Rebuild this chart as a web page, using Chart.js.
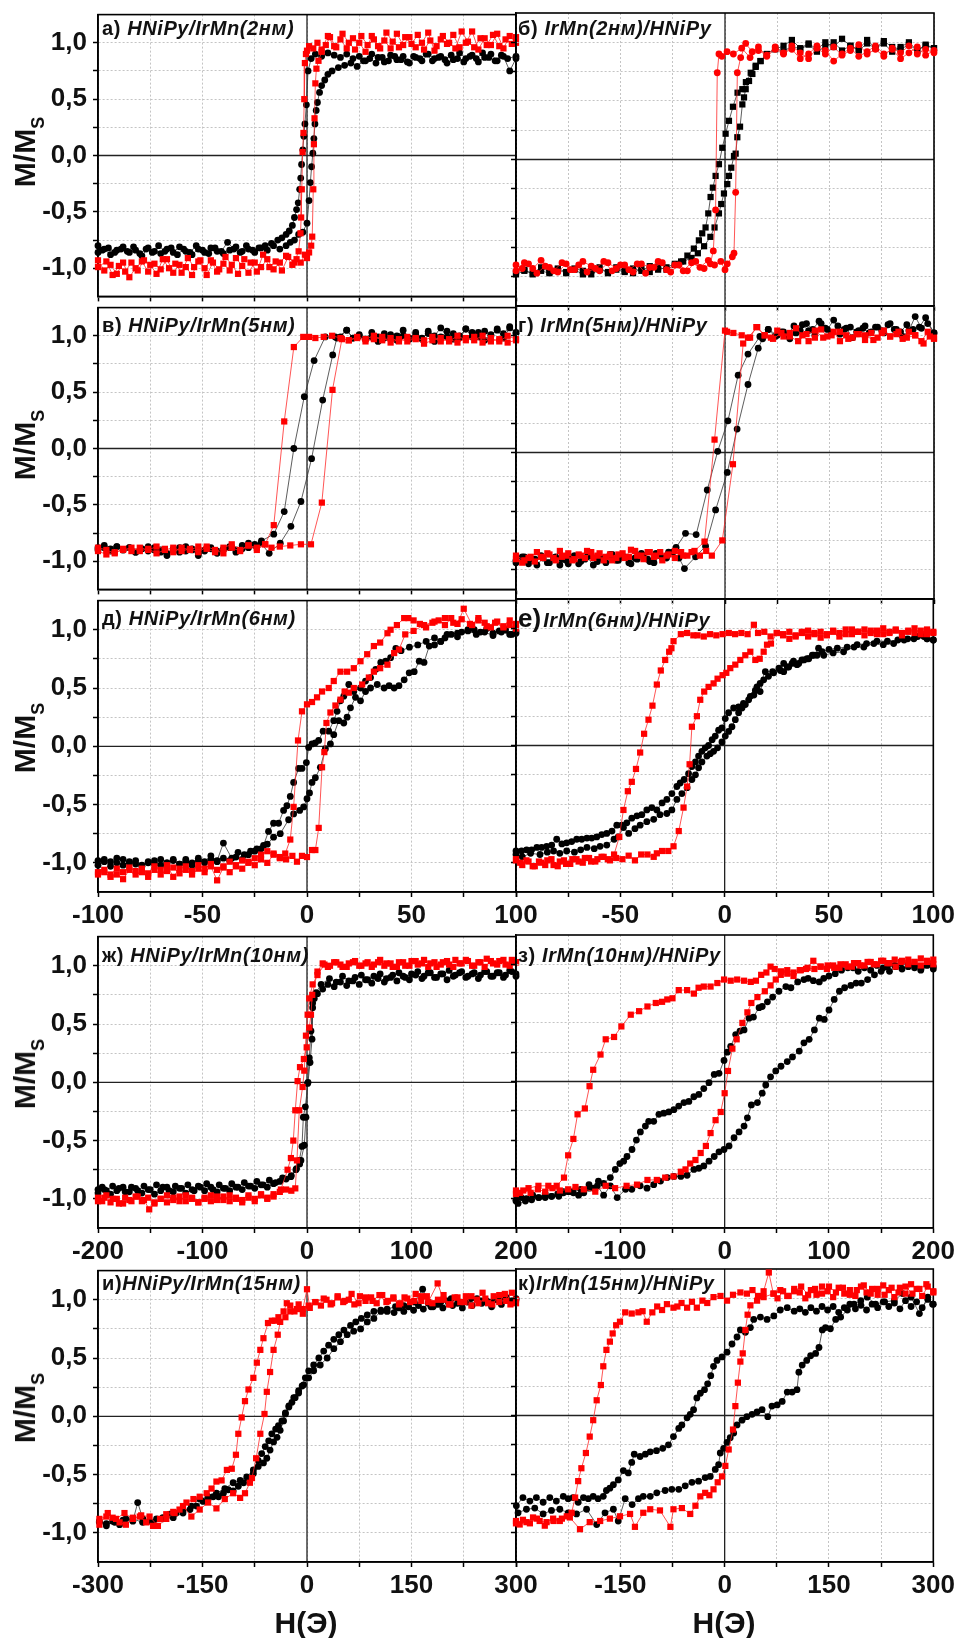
<!DOCTYPE html>
<html>
<head>
<meta charset="utf-8">
<script src="https://cdn.jsdelivr.net/npm/chart.js@4.4.1/dist/chart.umd.min.js"></script>
<style>
  html, body { margin: 0; padding: 0; background: #fff; }
  body { position: relative; width: 958px; height: 1638px; overflow: hidden; font-family: "Liberation Sans", Arial, sans-serif; }
  canvas { position: absolute; }
  .lbl { position: absolute; font-weight: bold; font-size: 20px; line-height: 20px; letter-spacing: 0.6px; white-space: nowrap; color: #111; }
  .lbl i { font-style: italic; }
  .lbl .big { font-size: 26px; letter-spacing: 0; margin-right: 2px; }
  .ytitle { position: absolute; font-weight: bold; font-size: 30px; line-height: 30px; white-space: nowrap; color: #111;
            transform: translate(-50%, -50%) rotate(-90deg); }
  .ytitle span { font-size: 18px; line-height: 0; position: relative; top: 9px; }
  .xtitle { position: absolute; font-weight: bold; font-size: 30px; line-height: 30px; white-space: nowrap; color: #111; transform: translateX(-50%); }
</style>
</head>
<body>
<script>
// ---- data: [H (Oe), M/Ms], descending branch then ascending branch ----

// а) HNiPy/IrMn(2нм)
const aKDown = [[100,0.86],[97,0.75],[94,0.88],[91,0.84],[88,0.9],[85,0.87],[82,0.83],[79,0.89],[76,0.86],[73,0.91],[70,0.85],[67,0.82],[64,0.88],[61,0.86],[58,0.9],[55,0.84],[52,0.87],[49,0.82],[46,0.88],[43,0.85],[40,0.89],[37,0.83],[34,0.87],[31,0.9],[28,0.84],[25,0.88],[22,0.86],[19,0.9],[16,0.87],[13,0.89],[10,0.91],[7,0.88],[4,0.9],[2,0.86],[0.5,0.75],[-0.3,0.45],[-1,0.28],[-1.5,0.17],[-2,0.05],[-2.6,-0.08],[-3,-0.2],[-3.5,-0.3],[-4.2,-0.42],[-5,-0.48],[-6,-0.55],[-7,-0.62],[-8.5,-0.67],[-10,-0.7],[-12,-0.73],[-14,-0.75],[-17,-0.78],[-20,-0.8],[-23,-0.82],[-26,-0.84],[-29,-0.8],[-32,-0.86],[-35,-0.83],[-38,-0.77],[-41,-0.85],[-44,-0.82],[-47,-0.87],[-50,-0.84],[-53,-0.8],[-56,-0.86],[-59,-0.83],[-62,-0.88],[-65,-0.82],[-68,-0.85],[-71,-0.8],[-74,-0.86],[-77,-0.83],[-80,-0.87],[-83,-0.81],[-86,-0.85],[-89,-0.83],[-92,-0.86],[-95,-0.82],[-98,-0.84],[-100,-0.8]];
const aKUp = [[-100,-0.86],[-97,-0.83],[-94,-0.88],[-91,-0.84],[-88,-0.81],[-85,-0.86],[-82,-0.84],[-79,-0.89],[-76,-0.82],[-73,-0.85],[-70,-0.87],[-67,-0.83],[-64,-0.86],[-61,-0.81],[-58,-0.85],[-55,-0.88],[-52,-0.83],[-49,-0.86],[-46,-0.82],[-43,-0.85],[-40,-0.87],[-37,-0.84],[-34,-0.81],[-31,-0.85],[-28,-0.83],[-25,-0.86],[-22,-0.82],[-19,-0.84],[-16,-0.8],[-13,-0.83],[-10,-0.8],[-8,-0.77],[-6,-0.75],[-4,-0.7],[-2,-0.68],[0,-0.6],[1,-0.4],[1.6,-0.24],[2.2,-0.1],[2.8,0.02],[3.3,0.15],[3.8,0.28],[4.4,0.4],[5,0.47],[6,0.56],[7,0.62],[8.5,0.67],[10,0.72],[12,0.75],[15,0.78],[18,0.8],[21,0.82],[24,0.79],[27,0.84],[30,0.86],[33,0.82],[36,0.87],[39,0.84],[42,0.88],[45,0.85],[48,0.83],[51,0.88],[54,0.86],[57,0.9],[60,0.84],[63,0.87],[66,0.85],[69,0.89],[72,0.86],[75,0.83],[78,0.88],[81,0.86],[84,0.91],[87,0.87],[90,0.84],[93,0.89],[96,0.86],[100,0.88]];
const aRDown = [[100,1.0],[97,1.06],[94,0.95],[91,1.08],[88,0.98],[85,1.04],[82,0.94],[79,1.1],[76,1.0],[73,0.96],[70,1.07],[67,0.99],[64,1.03],[61,0.93],[58,1.09],[55,1.0],[52,0.96],[49,1.05],[46,0.98],[43,1.08],[40,0.95],[37,1.02],[34,0.97],[31,1.06],[28,0.92],[25,1.0],[22,1.04],[19,0.95],[16,1.03],[13,0.97],[10,1.06],[7,0.94],[5,1.0],[3,0.95],[1,0.97],[0,0.93],[-0.5,0.9],[-1,0.82],[-1.3,0.5],[-1.7,0.2],[-2.1,0.03],[-2.5,-0.3],[-2.8,-0.55],[-3.1,-0.69],[-4,-0.85],[-6,-0.95],[-9,-0.9],[-12,-1.02],[-15,-0.94],[-18,-0.99],[-21,-0.88],[-24,-1.03],[-27,-0.95],[-30,-0.92],[-33,-1.05],[-36,-0.97],[-39,-0.9],[-42,-1.01],[-45,-0.95],[-48,-1.06],[-51,-0.93],[-54,-0.99],[-57,-0.91],[-60,-1.04],[-63,-0.96],[-66,-1.0],[-69,-0.92],[-72,-1.05],[-75,-0.97],[-78,-0.93],[-81,-1.02],[-84,-0.95],[-87,-1.03],[-90,-0.98],[-93,-1.06],[-96,-0.94],[-100,-0.99]];
const aRUp = [[-100,-0.93],[-97,-1.02],[-94,-0.97],[-91,-1.05],[-88,-0.95],[-85,-1.08],[-82,-1.0],[-79,-0.94],[-76,-1.03],[-73,-0.96],[-70,-1.01],[-67,-0.92],[-64,-1.04],[-61,-0.97],[-58,-0.99],[-55,-1.06],[-52,-0.94],[-49,-1.0],[-46,-0.93],[-43,-1.03],[-40,-0.96],[-37,-1.02],[-34,-0.91],[-31,-0.98],[-28,-1.04],[-25,-0.95],[-22,-0.99],[-19,-0.92],[-16,-1.01],[-13,-0.95],[-10,-0.89],[-7,-0.97],[-5,-0.92],[-3,-0.95],[-1,-0.88],[0,-0.91],[1,-0.86],[2,-0.8],[2.5,-0.72],[3,-0.3],[3.3,0.1],[3.6,0.33],[4,0.64],[4.5,0.77],[5.5,0.84],[7,0.92],[9,0.98],[11,1.05],[14,0.96],[17,1.08],[20,1.0],[23,0.94],[26,1.06],[29,0.98],[32,1.03],[35,0.95],[38,1.09],[41,1.01],[44,0.96],[47,1.05],[50,0.99],[53,1.07],[56,0.94],[59,1.02],[62,0.97],[65,1.06],[68,1.0],[71,0.95],[74,1.1],[77,1.01],[80,0.96],[83,1.04],[86,0.98],[89,1.07],[92,0.97],[95,1.03],[98,0.99],[100,1.05]];

// б) IrMn(2нм)/HNiPy
const bKDown = [[100,0.95],[96,0.98],[92,0.93],[88,1.0],[84,0.96],[80,0.92],[76,0.99],[72,0.95],[68,1.02],[64,0.94],[60,0.97],[56,0.93],[52,1.0],[48,0.96],[44,0.92],[40,0.98],[36,0.94],[32,0.97],[28,0.92],[24,0.95],[20,0.9],[17,0.84],[14.7,0.8],[12.3,0.74],[10,0.66],[8.3,0.6],[6,0.57],[3.8,0.45],[1.9,0.33],[0.3,0.22],[-1.3,0.1],[-2.9,-0.04],[-4.5,-0.14],[-5.8,-0.24],[-6.9,-0.32],[-8,-0.46],[-9.3,-0.58],[-10.9,-0.63],[-12.5,-0.69],[-14.9,-0.76],[-18,-0.82],[-21,-0.87],[-24,-0.9],[-28,-0.94],[-32,-0.92],[-36,-0.96],[-40,-0.93],[-44,-0.97],[-48,-0.95],[-52,-0.92],[-56,-0.96],[-60,-0.94],[-64,-0.98],[-68,-0.95],[-72,-0.93],[-76,-0.97],[-80,-0.94],[-84,-0.96],[-88,-0.92],[-92,-0.97],[-96,-0.95],[-100,-0.98]];
const bKUp = [[-100,-0.96],[-96,-0.94],[-92,-0.98],[-88,-0.95],[-84,-0.97],[-80,-0.93],[-76,-0.96],[-72,-0.94],[-68,-0.98],[-64,-0.95],[-60,-0.92],[-56,-0.97],[-52,-0.94],[-48,-0.96],[-44,-0.93],[-40,-0.95],[-36,-0.91],[-32,-0.94],[-28,-0.92],[-24,-0.89],[-20,-0.87],[-16,-0.84],[-13,-0.8],[-10,-0.74],[-7,-0.66],[-5,-0.58],[-2.9,-0.46],[-1.8,-0.38],[-0.5,-0.29],[1.1,-0.21],[1.9,-0.14],[3,-0.07],[4.3,0.03],[5.1,0.05],[5.9,0.19],[7.2,0.28],[8.3,0.47],[9.1,0.53],[9.9,0.6],[11.5,0.67],[13.1,0.73],[14.7,0.79],[17,0.84],[20,0.9],[24,0.94],[28,0.97],[32,1.02],[36,0.95],[40,0.99],[44,0.94],[48,1.0],[52,0.96],[56,1.03],[60,0.97],[64,0.93],[68,0.99],[72,0.95],[76,1.01],[80,0.96],[84,0.94],[88,0.98],[92,0.93],[96,0.97],[100,0.95]];
const bRDown = [[100,0.93],[96,0.89],[92,0.96],[88,0.91],[84,0.86],[80,0.94],[76,0.9],[72,0.97],[68,0.92],[64,0.88],[60,0.95],[56,0.9],[52,0.84],[48,0.93],[44,0.97],[40,0.9],[36,0.86],[32,0.94],[28,0.91],[24,0.96],[20,0.89],[16,0.93],[12,0.87],[8,0.95],[4,0.9],[1,0.92],[-1.5,0.88],[-2.9,0.9],[-3.7,0.74],[-4.5,-0.43],[-5.6,-0.78],[-7,-0.89],[-10,-0.93],[-14,-0.87],[-18,-0.95],[-22,-0.9],[-26,-0.96],[-30,-0.88],[-34,-0.92],[-38,-0.97],[-42,-0.89],[-46,-0.94],[-50,-0.9],[-54,-0.95],[-58,-0.87],[-62,-0.93],[-66,-0.96],[-70,-0.9],[-74,-0.94],[-78,-0.88],[-82,-0.95],[-86,-0.91],[-90,-0.97],[-94,-0.89],[-97,-0.93],[-100,-0.9]];
const bRUp = [[-100,-0.95],[-96,-0.88],[-92,-0.93],[-88,-0.86],[-84,-0.92],[-80,-0.96],[-76,-0.89],[-72,-0.94],[-68,-0.87],[-64,-0.91],[-60,-0.95],[-56,-0.88],[-52,-0.93],[-48,-0.9],[-44,-0.96],[-40,-0.89],[-36,-0.92],[-32,-0.87],[-28,-0.94],[-24,-0.9],[-20,-0.95],[-16,-0.88],[-12,-0.92],[-8,-0.86],[-5,-0.9],[-2,-0.87],[0,-0.94],[1.1,-0.89],[3.5,-0.83],[4.3,-0.8],[5.1,-0.28],[5.9,0.74],[7.5,0.87],[9.9,0.99],[13,0.92],[16,0.96],[20,0.88],[24,0.94],[28,0.9],[32,0.97],[36,0.91],[40,0.86],[44,0.95],[48,0.9],[52,0.96],[56,0.89],[60,0.93],[64,0.98],[68,0.9],[72,0.94],[76,0.88],[80,0.95],[84,0.91],[88,0.97],[92,0.9],[96,0.94],[100,0.91]];

// в) HNiPy/IrMn(5нм)
const vKDown = [[100,1.02],[97,1.07],[94,0.98],[91,1.05],[88,1.01],[85,0.96],[82,1.03],[79,0.99],[76,1.06],[73,1.0],[70,0.97],[67,1.04],[64,0.99],[61,0.95],[58,1.02],[55,0.98],[52,1.03],[49,0.97],[46,1.0],[43,0.96],[40,1.01],[37,0.98],[34,0.95],[31,0.99],[28,0.97],[25,1.0],[22,0.98],[19,1.05],[16,0.99],[13.5,0.99],[8.7,0.99],[3.4,0.78],[-1.3,0.46],[-6.3,0.0],[-10.9,-0.56],[-15.9,-0.76],[-21.8,-0.82],[-25,-0.86],[-28,-0.84],[-31,-0.89],[-34,-0.92],[-37,-0.88],[-40,-0.9],[-43,-0.93],[-46,-0.89],[-49,-0.91],[-52,-0.95],[-55,-0.9],[-58,-0.87],[-61,-0.92],[-64,-0.89],[-67,-0.93],[-70,-0.9],[-73,-0.88],[-76,-0.91],[-79,-0.89],[-82,-0.92],[-85,-0.88],[-88,-0.9],[-91,-0.87],[-94,-0.89],[-97,-0.86],[-100,-0.88]];
const vKUp = [[-100,-0.9],[-97,-0.88],[-94,-0.91],[-91,-0.87],[-88,-0.9],[-85,-0.88],[-82,-0.92],[-79,-0.89],[-76,-0.87],[-73,-0.9],[-70,-0.92],[-67,-0.95],[-64,-0.9],[-61,-0.88],[-58,-0.91],[-55,-0.89],[-52,-0.93],[-49,-0.9],[-46,-0.88],[-43,-0.91],[-40,-0.89],[-37,-0.87],[-34,-0.9],[-31,-0.86],[-28,-0.88],[-25,-0.85],[-22,-0.84],[-18.1,-0.93],[-12.8,-0.84],[-7.7,-0.69],[-2.9,-0.47],[2.2,-0.09],[7.5,0.43],[12.3,0.83],[14.3,0.98],[19,1.05],[22,0.98],[25,1.01],[28,0.97],[31,1.03],[34,0.99],[37,1.02],[40,0.97],[43,1.0],[46,1.05],[49,0.98],[52,1.01],[55,0.97],[58,1.04],[61,1.0],[64,1.07],[67,0.99],[70,1.02],[73,0.98],[76,1.06],[79,1.03],[82,0.99],[85,1.04],[88,1.0],[91,1.06],[94,1.02],[97,1.08],[100,1.03]];
const vRDown = [[100,0.97],[96,1.0],[92,0.95],[88,0.98],[84,0.94],[80,0.99],[76,0.96],[72,1.0],[68,0.95],[64,0.98],[60,0.96],[56,0.93],[52,0.97],[48,0.99],[44,0.95],[40,0.98],[36,0.96],[32,1.0],[28,0.97],[24,0.99],[20,0.96],[16,0.98],[12,1.0],[8,0.99],[4,0.98],[1,0.99],[-1.8,0.99],[-6.3,0.9],[-10.9,0.24],[-15.9,-0.68],[-20,-0.85],[-24,-0.9],[-28,-0.86],[-32,-0.91],[-36,-0.88],[-40,-0.93],[-44,-0.9],[-48,-0.87],[-52,-0.92],[-56,-0.89],[-60,-0.91],[-64,-0.88],[-68,-0.9],[-72,-0.93],[-76,-0.89],[-80,-0.91],[-84,-0.88],[-88,-0.9],[-92,-0.92],[-96,-0.94],[-100,-0.91]];
const vRUp = [[-100,-0.88],[-96,-0.9],[-92,-0.93],[-88,-0.89],[-84,-0.91],[-80,-0.88],[-76,-0.9],[-72,-0.87],[-68,-0.89],[-64,-0.92],[-60,-0.88],[-56,-0.9],[-52,-0.87],[-48,-0.89],[-44,-0.92],[-40,-0.88],[-36,-0.85],[-32,-0.9],[-28,-0.86],[-24,-0.88],[-20,-0.85],[-17,-0.88],[-13,-0.87],[-8,-0.86],[-2.9,-0.85],[1.9,-0.85],[7.1,-0.48],[12.2,0.52],[16.7,0.97],[20,0.96],[24,0.98],[28,0.95],[32,0.97],[36,0.99],[40,0.94],[44,0.97],[48,0.95],[52,0.98],[56,0.96],[60,0.99],[64,0.95],[68,0.97],[72,0.94],[76,0.98],[80,0.96],[84,1.0],[88,0.95],[92,0.97],[96,0.94],[100,0.96]];

// г) IrMn(5нм)/HNiPy
const gKDown = [[100,1.02],[97,1.1],[94,1.06],[91,1.16],[88,1.04],[85,0.99],[82,1.05],[79,1.1],[76,1.02],[73,1.07],[70,1.03],[67,1.08],[64,1.04],[61,0.98],[58,1.06],[55,1.01],[52,1.13],[49,1.05],[46,1.1],[43,1.0],[40,1.04],[37,1.09],[34,1.02],[31,0.97],[28,1.03],[25,1.0],[20.7,1.05],[16.7,0.99],[11,0.84],[6.3,0.66],[1.4,0.27],[-3.5,0.01],[-8.5,-0.32],[-13.8,-0.7],[-18.9,-0.69],[-23.4,-0.81],[-27,-0.85],[-30,-0.9],[-33,-0.86],[-36,-0.93],[-39,-0.88],[-42,-0.91],[-45,-0.95],[-48,-0.89],[-51,-0.92],[-54,-0.87],[-57,-0.94],[-60,-0.9],[-63,-0.96],[-66,-0.89],[-69,-0.93],[-72,-0.88],[-75,-0.95],[-78,-0.91],[-81,-0.89],[-84,-0.94],[-87,-0.9],[-90,-0.96],[-93,-0.91],[-96,-0.89],[-100,-0.94]];
const gKUp = [[-100,-0.92],[-97,-0.89],[-94,-0.95],[-91,-0.91],[-88,-0.88],[-85,-0.94],[-82,-0.9],[-79,-0.96],[-76,-0.92],[-73,-0.89],[-70,-0.95],[-67,-0.91],[-64,-0.88],[-61,-0.93],[-58,-0.9],[-55,-0.87],[-52,-0.92],[-49,-0.89],[-46,-0.94],[-43,-0.9],[-40,-0.86],[-37,-0.91],[-34,-0.94],[-31,-0.88],[-28,-0.9],[-25,-0.85],[-22,-0.9],[-19.4,-0.99],[-14.1,-0.89],[-9.3,-0.8],[-4.5,-0.49],[1.1,-0.17],[5.8,0.2],[11,0.58],[15.9,0.89],[18,0.97],[20.7,1.05],[24,0.99],[27,1.03],[30,1.0],[33,1.08],[36,1.04],[39,1.1],[42,1.05],[45,1.12],[48,1.06],[51,1.02],[54,1.08],[57,1.05],[60,1.07],[63,1.03],[66,1.06],[69,1.02],[72,1.07],[75,1.04],[78,1.09],[81,1.05],[84,1.03],[87,1.09],[90,1.05],[93,1.07],[96,1.15],[100,1.02]];
const gRDown = [[100,0.98],[97,1.03],[94,0.95],[91,1.0],[88,1.03],[85,0.97],[82,1.01],[79,0.99],[76,1.04],[73,0.98],[70,1.02],[67,0.96],[64,1.01],[61,0.98],[58,1.0],[55,0.95],[52,1.03],[49,0.99],[46,1.05],[43,0.98],[40,0.95],[37,1.0],[34,1.06],[31,1.02],[28,0.99],[25,1.04],[22,0.98],[19,1.0],[15,1.07],[12,0.98],[8,1.0],[4,1.02],[1,1.03],[0,1.04],[-5,0.11],[-9.8,-0.76],[-14.6,-0.84],[-18,-0.88],[-21,-0.85],[-24,-0.9],[-27,-0.87],[-30,-0.92],[-33,-0.88],[-36,-0.85],[-39,-0.91],[-42,-0.88],[-45,-0.83],[-48,-0.9],[-51,-0.87],[-54,-0.92],[-57,-0.89],[-60,-0.86],[-63,-0.9],[-66,-0.84],[-69,-0.88],[-72,-0.91],[-75,-0.86],[-78,-0.89],[-81,-0.92],[-84,-0.87],[-87,-0.9],[-90,-0.85],[-93,-0.89],[-96,-0.92],[-100,-0.88]];
const gRUp = [[-100,-0.91],[-97,-0.94],[-94,-0.9],[-91,-0.93],[-88,-0.89],[-85,-0.86],[-82,-0.9],[-79,-0.84],[-76,-0.88],[-73,-0.92],[-70,-0.87],[-67,-0.9],[-64,-0.85],[-61,-0.88],[-58,-0.92],[-55,-0.87],[-52,-0.9],[-49,-0.86],[-46,-0.89],[-43,-0.84],[-40,-0.88],[-37,-0.85],[-34,-0.89],[-31,-0.85],[-28,-0.88],[-24,-0.84],[-20,-0.88],[-16,-0.85],[-12,-0.88],[-9,-0.84],[-6.3,-0.88],[-1.3,-0.75],[3.8,-0.1],[8.7,0.93],[11,0.98],[15.4,1.07],[19,1.0],[23,0.97],[27,1.02],[31,0.99],[35,0.95],[39,1.01],[43,1.04],[47,0.98],[51,1.0],[55,1.03],[59,0.97],[63,1.01],[67,1.0],[71,0.96],[75,1.02],[79,0.99],[83,1.03],[87,0.98],[91,1.0],[95,0.93],[98,0.99],[100,0.97]];

// д) HNiPy/IrMn(6нм)
const dKDown = [[100,0.97],[98,0.96],[95,1.0],[92,0.99],[89,0.97],[86,1.01],[83,0.98],[80,1.0],[77,1.0],[74,0.98],[72,0.94],[69,0.96],[66,0.93],[64,0.9],[61,0.93],[57,0.9],[53,0.87],[49,0.85],[45,0.82],[42.5,0.84],[40,0.76],[37.7,0.73],[35.3,0.72],[32.9,0.66],[30.4,0.59],[28,0.56],[25.6,0.5],[22.4,0.47],[20,0.53],[17.6,0.43],[16,0.39],[14.4,0.3],[12.8,0.22],[10.4,0.13],[7.7,0.13],[5.6,0.05],[4,0.03],[2.4,0.02],[0.8,-0.01],[-0.3,-0.14],[-2.4,-0.19],[-4,-0.19],[-6.4,-0.31],[-8,-0.43],[-9.6,-0.51],[-11.2,-0.55],[-13.6,-0.66],[-16,-0.66],[-18.4,-0.73],[-20.8,-0.85],[-24,-0.88],[-27,-0.9],[-30,-0.93],[-33,-0.91],[-36,-0.96],[-40,-0.83],[-43,-0.98],[-46,-0.94],[-49,-0.99],[-52,-0.96],[-55,-1.0],[-58,-0.97],[-61,-1.01],[-64,-0.98],[-67,-1.0],[-70,-0.97],[-73,-1.01],[-76,-0.99],[-79,-1.02],[-82,-0.98],[-85,-1.0],[-88,-0.97],[-91,-0.96],[-94,-0.99],[-97,-0.97],[-100,-0.98]];
const dKUp = [[-100,-1.02],[-97,-0.99],[-94,-1.03],[-91,-1.0],[-88,-1.02],[-85,-0.99],[-82,-1.01],[-79,-1.03],[-76,-1.0],[-73,-0.98],[-70,-1.02],[-67,-1.0],[-64,-0.97],[-61,-1.01],[-58,-0.99],[-55,-1.02],[-52,-0.98],[-49,-1.0],[-46,-0.97],[-43,-0.99],[-40,-0.96],[-37,-0.98],[-34,-0.95],[-31,-0.97],[-28,-0.93],[-25,-0.9],[-22,-0.88],[-19,-0.84],[-16,-0.78],[-12.8,-0.75],[-8.8,-0.63],[-6.4,-0.58],[-3.5,-0.55],[-1.6,-0.52],[0,-0.45],[1.2,-0.4],[2.4,-0.31],[4,-0.27],[6.4,-0.18],[8.8,-0.02],[11.2,0.02],[12.8,0.1],[15.2,0.22],[17.6,0.2],[19.2,0.25],[20.8,0.33],[23.2,0.42],[25.6,0.39],[28,0.47],[30.4,0.5],[33.6,0.53],[36.9,0.5],[39.3,0.52],[41.7,0.5],[44,0.52],[46.5,0.57],[48.9,0.63],[51.3,0.64],[53.7,0.73],[56,0.72],[58.5,0.86],[61,0.87],[64,0.9],[67,0.96],[72,0.97],[77,0.99],[81,0.96],[85,0.98],[89,0.95],[93,0.98],[97,0.96],[100,0.99]];
const dRDown = [[100,1.05],[97,1.08],[94,1.03],[91,1.07],[88,1.02],[85,1.06],[82,1.1],[79,1.04],[75,1.18],[72,1.05],[69,1.1],[66,1.04],[63,1.08],[60,1.06],[57,1.02],[54,1.05],[51,1.08],[48.5,1.1],[46.5,1.1],[43,1.04],[40,1.0],[38.5,0.97],[35,0.89],[32,0.86],[28.8,0.79],[25.6,0.73],[22.4,0.67],[19.2,0.64],[16,0.64],[12.8,0.56],[10.4,0.5],[7.2,0.47],[4.8,0.42],[2.4,0.38],[0,0.36],[-2.4,0.3],[-4.3,0.05],[-6.4,-0.52],[-8,-0.8],[-10.4,-0.92],[-13,-0.96],[-16,-0.93],[-19,-1.0],[-22,-0.97],[-25,-1.02],[-28,-0.99],[-31,-1.05],[-34,-1.03],[-37,-1.08],[-40,-1.04],[-43,-1.15],[-46,-1.03],[-49,-1.08],[-52,-1.05],[-55,-1.1],[-58,-1.06],[-61,-1.09],[-64,-1.04],[-67,-1.07],[-70,-1.1],[-73,-1.06],[-76,-1.12],[-79,-1.08],[-82,-1.1],[-85,-1.06],[-88,-1.14],[-91,-1.1],[-94,-1.12],[-97,-1.08],[-100,-1.1]];
const dRUp = [[-100,-1.08],[-97,-1.06],[-94,-1.1],[-91,-1.05],[-88,-1.08],[-85,-1.04],[-82,-1.07],[-79,-1.05],[-76,-1.09],[-73,-1.03],[-70,-1.06],[-67,-1.02],[-64,-1.12],[-61,-1.05],[-58,-1.03],[-55,-1.07],[-52,-1.02],[-49,-1.05],[-46,-1.01],[-43,-1.06],[-40,-1.03],[-37,-0.99],[-34,-1.02],[-31,-0.98],[-28,-1.0],[-25,-0.96],[-22,-0.93],[-19,-0.9],[-16,-0.92],[-13,-0.95],[-10,-0.97],[-7,-0.94],[-4.8,-0.99],[-2.4,-0.94],[0,-0.95],[2.4,-0.89],[4,-0.89],[5.6,-0.7],[7.2,-0.18],[8.3,-0.05],[9.3,0.2],[11.2,0.29],[13.6,0.35],[16,0.4],[18,0.47],[20,0.46],[22.4,0.5],[26.4,0.53],[29.6,0.59],[32,0.64],[35,0.67],[38.5,0.7],[41.7,0.8],[44,0.83],[47,0.96],[51,0.99],[56,1.04],[61,1.07],[66,1.1],[70,1.06],[74,1.09],[78,1.05],[82,1.08],[86,1.03],[90,1.06],[94,1.02],[97,1.04],[100,1.01]];

// е) IrMn(6нм)/HNiPy
const eKDown = [[100,0.9],[97,0.91],[95.5,0.93],[90.7,0.91],[86,0.9],[81,0.87],[76,0.86],[71.5,0.87],[66.7,0.84],[62,0.84],[57,0.8],[52,0.79],[47.5,0.77],[45,0.83],[42.7,0.77],[40.3,0.74],[38,0.73],[35.5,0.7],[33,0.72],[30.7,0.67],[28.3,0.7],[26.7,0.64],[23,0.63],[19.5,0.63],[17,0.53],[15.5,0.5],[14,0.43],[11.5,0.39],[9,0.36],[6.7,0.33],[4.3,0.32],[1.9,0.28],[0.3,0.23],[-1.3,0.15],[-2.9,0.13],[-4.5,0.08],[-6,0.05],[-7.7,0.0],[-9.3,-0.02],[-10.9,-0.05],[-12.5,-0.09],[-14,-0.14],[-15.7,-0.18],[-17.3,-0.24],[-19.4,-0.29],[-21.3,-0.32],[-22.9,-0.35],[-25.3,-0.41],[-27.7,-0.46],[-30,-0.49],[-32.5,-0.55],[-34.9,-0.53],[-37.3,-0.55],[-39.7,-0.59],[-42,-0.6],[-44.5,-0.62],[-46.9,-0.66],[-49.3,-0.68],[-51.7,-0.68],[-54,-0.73],[-56.5,-0.75],[-58.9,-0.76],[-61.3,-0.78],[-63.7,-0.79],[-66,-0.79],[-68.5,-0.8],[-70.9,-0.8],[-73.3,-0.82],[-75.7,-0.83],[-78,-0.84],[-80.5,-0.8],[-82.9,-0.85],[-85.3,-0.86],[-87.7,-0.87],[-90,-0.87],[-92.5,-0.89],[-94.9,-0.89],[-97.3,-0.9],[-100,-0.9]];
const eKUp = [[-100,-0.93],[-97,-0.95],[-93,-0.92],[-88.5,-0.93],[-85,-0.91],[-82,-0.9],[-79,-0.92],[-75.7,-0.9],[-72,-0.91],[-69,-0.89],[-66,-0.87],[-62.5,-0.88],[-59.7,-0.86],[-56.5,-0.85],[-53,-0.8],[-51,-0.78],[-48.5,-0.7],[-46,-0.75],[-43,-0.71],[-40.5,-0.68],[-37.3,-0.65],[-34,-0.63],[-31,-0.59],[-27.7,-0.58],[-25.3,-0.55],[-22.9,-0.46],[-20.5,-0.41],[-18,-0.36],[-15.7,-0.29],[-14,-0.25],[-12.5,-0.19],[-10.9,-0.14],[-8.5,-0.09],[-6.9,-0.07],[-5.3,-0.05],[-3.4,-0.02],[-1.3,0.03],[0.3,0.08],[1.9,0.12],[3.5,0.16],[5.1,0.22],[6.7,0.28],[8.3,0.32],[9.9,0.35],[12.3,0.42],[14.7,0.47],[17,0.46],[18.7,0.56],[21,0.59],[23.5,0.62],[26,0.66],[28.3,0.63],[30,0.67],[32.3,0.7],[34.7,0.69],[37,0.73],[39.5,0.74],[42,0.77],[44.3,0.77],[46.7,0.8],[50,0.82],[54,0.83],[58.7,0.84],[63.5,0.86],[68,0.87],[73,0.89],[78,0.89],[83,0.9],[87.7,0.91],[92.5,0.93],[97,0.91],[100,0.9]];
const eRDown = [[100,0.97],[97,0.99],[94,0.95],[91,1.0],[88,0.97],[85,0.94],[82,0.98],[79,0.96],[76,1.0],[73,0.95],[70,0.98],[67,0.94],[64,0.97],[61,0.99],[58,0.95],[55,0.93],[52,0.97],[49,0.95],[46,0.92],[43,0.96],[40,0.93],[37,0.97],[34,0.94],[31,0.91],[28,0.95],[25,0.96],[22,0.93],[19,0.97],[16,0.96],[14,1.03],[11,0.95],[8,0.96],[5,0.95],[2,0.96],[-1,0.95],[-4,0.94],[-7,0.95],[-10,0.93],[-13,0.94],[-15,0.94],[-18,0.96],[-21,0.95],[-24.5,0.89],[-25.5,0.83],[-26.6,0.8],[-28.5,0.73],[-30.6,0.64],[-32.5,0.52],[-34.6,0.34],[-36.5,0.22],[-38.6,0.1],[-40.5,-0.06],[-42.5,-0.2],[-44.5,-0.31],[-46.4,-0.39],[-48.5,-0.55],[-50.5,-0.78],[-53,-0.93],[-56,-0.97],[-59,-0.95],[-62,-0.99],[-65,-0.96],[-68,-1.0],[-71,-0.97],[-74,-1.01],[-77,-0.98],[-80,-1.03],[-83,-0.97],[-86,-1.02],[-89,-0.99],[-92,-1.03],[-95,-0.98],[-98,-1.0],[-100,-0.97]];
const eRUp = [[-100,-0.98],[-97,-1.02],[-94,-0.99],[-91,-1.03],[-88,-1.0],[-85,-0.98],[-82,-1.02],[-79,-0.99],[-76,-1.01],[-73,-0.97],[-70,-0.99],[-67,-0.96],[-64,-0.99],[-61,-0.97],[-58,-0.95],[-55,-0.98],[-52,-0.96],[-49,-0.97],[-46,-0.94],[-43,-0.98],[-40,-0.93],[-37,-0.93],[-34,-0.95],[-32.5,-0.92],[-30,-0.9],[-27,-0.9],[-24.5,-0.86],[-22,-0.73],[-19.7,-0.53],[-18,-0.35],[-16.8,-0.16],[-15.7,0.16],[-13.3,0.25],[-11.7,0.39],[-9.8,0.46],[-7.7,0.5],[-5.3,0.53],[-3.4,0.57],[-1,0.6],[0.8,0.62],[2.7,0.66],[5.1,0.69],[7.5,0.73],[9.9,0.77],[12.3,0.8],[14.7,0.73],[16.8,0.74],[18.7,0.8],[20.3,0.86],[22.2,0.87],[25,0.96],[28,0.94],[31,0.97],[34,0.93],[37,0.96],[40,0.98],[43,0.95],[46,0.97],[49,0.94],[52,0.98],[55,0.96],[58,0.99],[61,0.95],[64,0.97],[67,0.99],[70,0.96],[73,0.98],[76,0.95],[79,0.97],[82,0.99],[85,0.96],[88,0.98],[91,0.96],[94,0.98],[97,0.95],[100,0.96]];

// ж) HNiPy/IrMn(10нм)
const zhKDown = [[200,0.93],[194,0.96],[188,0.9],[182,0.94],[176,0.91],[170,0.95],[164,0.89],[158,0.93],[152,0.9],[146,0.94],[140,0.91],[134,0.88],[128,0.93],[122,0.9],[116,0.94],[110,0.89],[104,0.92],[98,0.88],[92,0.91],[86,0.87],[80,0.9],[74,0.86],[68,0.89],[62,0.85],[56,0.88],[50,0.84],[44,0.87],[38,0.83],[32,0.86],[26,0.82],[20,0.84],[15,0.8],[10,0.76],[7,0.72],[5.4,0.68],[4.8,0.37],[2.9,0.17],[1,0.0],[-1.6,-0.21],[-3.5,-0.3],[-4.8,-0.55],[-7.4,-0.67],[-10.6,-0.75],[-15.4,-0.81],[-23.4,-0.82],[-30,-0.86],[-36,-0.84],[-42,-0.88],[-48,-0.85],[-54,-0.89],[-60,-0.86],[-66,-0.9],[-72,-0.87],[-78,-0.91],[-84,-0.88],[-90,-0.92],[-96,-0.87],[-102,-0.9],[-108,-0.93],[-114,-0.88],[-120,-0.91],[-126,-0.89],[-132,-0.93],[-138,-0.9],[-144,-0.88],[-150,-0.92],[-156,-0.89],[-162,-0.93],[-168,-0.9],[-174,-0.94],[-180,-0.91],[-186,-0.89],[-192,-0.93],[-196,-0.9],[-200,-0.92]];
const zhKUp = [[-200,-0.95],[-194,-0.92],[-188,-0.96],[-182,-0.93],[-176,-0.9],[-170,-0.94],[-164,-0.91],[-158,-0.95],[-152,-0.92],[-146,-0.96],[-140,-0.93],[-134,-0.9],[-128,-0.94],[-122,-0.91],[-116,-0.95],[-110,-0.92],[-104,-0.89],[-98,-0.93],[-92,-0.9],[-86,-0.94],[-80,-0.91],[-74,-0.93],[-68,-0.9],[-62,-0.92],[-56,-0.89],[-50,-0.91],[-44,-0.88],[-38,-0.9],[-32,-0.87],[-26,-0.85],[-20,-0.83],[-15,-0.8],[-10,-0.74],[-7,-0.7],[-5.8,-0.67],[-2.6,-0.54],[-1,-0.3],[0.6,-0.01],[2.2,0.21],[3.8,0.44],[5.4,0.64],[8.7,0.77],[13.5,0.84],[21.5,0.89],[28,0.86],[34,0.91],[40,0.87],[46,0.9],[52,0.92],[58,0.88],[64,0.91],[70,0.93],[76,0.89],[82,0.92],[88,0.94],[94,0.9],[100,0.93],[106,0.95],[112,0.91],[118,0.94],[124,0.9],[130,0.93],[136,0.96],[142,0.92],[148,0.95],[154,0.91],[160,0.94],[166,0.92],[172,0.95],[178,0.91],[184,0.94],[190,0.92],[196,0.95],[200,0.91]];
const zhRDown = [[200,1.03],[194,1.0],[188,1.05],[182,1.01],[176,1.04],[170,0.99],[164,1.03],[158,1.0],[152,1.05],[146,1.02],[140,0.99],[134,1.04],[128,1.01],[122,1.03],[116,0.99],[110,1.02],[104,1.04],[98,1.0],[92,1.03],[86,0.99],[80,1.02],[74,1.0],[68,1.03],[62,0.99],[56,1.02],[50,1.0],[44,1.03],[38,0.99],[32,1.01],[26,1.03],[20,0.99],[15,1.02],[10,0.95],[5,0.75],[3.8,0.58],[2.2,0.47],[-0.3,0.3],[-3,0.2],[-6.7,0.13],[-9,0.01],[-11.2,-0.24],[-13.1,-0.5],[-15.4,-0.65],[-18.6,-0.75],[-25,-0.92],[-32,-0.98],[-38,-1.0],[-44,-0.97],[-50,-1.02],[-56,-0.99],[-62,-1.03],[-68,-1.0],[-74,-0.97],[-80,-1.01],[-86,-0.98],[-92,-1.02],[-98,-0.99],[-104,-1.03],[-110,-1.0],[-116,-0.97],[-122,-1.02],[-128,-0.99],[-134,-1.03],[-140,-1.0],[-146,-1.04],[-151,-1.09],[-156,-1.01],[-162,-0.98],[-168,-1.02],[-174,-0.99],[-180,-1.04],[-186,-1.0],[-192,-0.97],[-196,-1.02],[-200,-0.99]];
const zhRUp = [[-200,-1.02],[-194,-0.99],[-188,-1.03],[-182,-1.0],[-176,-1.04],[-170,-1.01],[-164,-0.98],[-158,-1.02],[-152,-0.99],[-146,-1.03],[-140,-1.0],[-134,-0.97],[-128,-1.01],[-122,-0.98],[-116,-1.02],[-110,-0.99],[-104,-1.03],[-98,-1.0],[-92,-0.97],[-86,-1.01],[-80,-0.98],[-74,-1.02],[-68,-0.99],[-62,-1.01],[-56,-0.97],[-50,-1.0],[-44,-0.96],[-38,-0.99],[-32,-0.96],[-26,-0.94],[-20,-0.92],[-15,-0.93],[-11.2,-0.91],[-9.6,-0.67],[-7.4,-0.24],[-4.2,-0.04],[-2.6,0.1],[-1,0.4],[0.6,0.58],[2.2,0.72],[5.4,0.84],[10,0.92],[16.7,1.01],[22,1.0],[28,1.03],[34,0.99],[40,1.02],[46,1.04],[52,1.0],[58,1.03],[64,1.01],[70,1.05],[76,1.02],[82,0.99],[88,1.03],[94,1.0],[100,1.04],[106,1.01],[112,1.05],[118,1.02],[124,0.99],[130,1.03],[136,1.01],[142,1.05],[148,1.02],[154,1.04],[160,1.0],[166,1.03],[172,1.06],[178,1.02],[184,1.04],[190,1.01],[196,1.05],[200,1.03]];

// з) IrMn(10нм)/HNiPy
const zKDown = [[200,0.96],[194,0.99],[188,0.95],[182,0.97],[176,1.0],[170,0.96],[164,0.98],[158,0.94],[152,0.97],[146,0.99],[140,0.95],[134,0.97],[128,0.94],[123,0.97],[118,0.97],[112,0.95],[106,0.92],[100,0.9],[95,0.88],[90.7,0.85],[85,0.86],[80,0.88],[76,0.87],[70,0.85],[63.5,0.8],[58.7,0.81],[52,0.77],[46,0.72],[41,0.68],[36,0.64],[33,0.63],[27.6,0.55],[23.4,0.54],[18.6,0.44],[14.7,0.43],[10.6,0.4],[5.8,0.3],[2.5,0.25],[-0.6,0.18],[-5.4,0.07],[-10,0.06],[-15,-0.01],[-20,-0.06],[-24.7,-0.11],[-29.5,-0.13],[-34.3,-0.17],[-39,-0.18],[-44,-0.21],[-48.7,-0.24],[-53.5,-0.26],[-58.3,-0.27],[-63,-0.28],[-68,-0.34],[-72.8,-0.34],[-76,-0.38],[-80.8,-0.43],[-84.6,-0.5],[-88.8,-0.58],[-93.6,-0.64],[-96.8,-0.68],[-100.5,-0.7],[-104.8,-0.75],[-109.6,-0.82],[-116,-0.87],[-121,-0.85],[-125.6,-0.91],[-130,-0.88],[-135,-0.95],[-140,-0.97],[-145,-0.95],[-150,-0.94],[-154.5,-0.94],[-159,-0.98],[-165.7,-0.98],[-172,-0.99],[-178.5,-0.99],[-185,-1.01],[-191,-1.02],[-198,-1.04],[-200,-1.02]];
const zKUp = [[-200,-1.01],[-195,-0.99],[-190,-1.0],[-184,-0.97],[-178,-0.99],[-172,-0.96],[-166,-0.98],[-160,-0.96],[-154.5,-0.95],[-146.5,-0.94],[-138,-0.92],[-130,-0.91],[-122,-0.89],[-116,-0.97],[-109.6,-0.89],[-103,-0.99],[-95,-0.92],[-89,-0.92],[-81,-0.89],[-74.4,-0.91],[-68,-0.88],[-61.5,-0.85],[-55,-0.82],[-48.7,-0.81],[-42,-0.81],[-36,-0.8],[-29.5,-0.75],[-24.7,-0.74],[-20,-0.72],[-15,-0.68],[-10,-0.64],[-5.4,-0.6],[-0.6,-0.58],[4.2,-0.55],[9,-0.48],[13.8,-0.43],[18.6,-0.38],[21.8,-0.31],[25.6,-0.2],[31.4,-0.18],[36,-0.1],[39.4,-0.03],[44,0.04],[49,0.09],[54,0.13],[60,0.17],[65,0.21],[71.5,0.26],[76,0.33],[81,0.36],[86,0.44],[90.7,0.54],[95.5,0.53],[100,0.61],[105,0.7],[110,0.77],[115,0.8],[121,0.82],[126,0.84],[131,0.84],[137,0.87],[143.6,0.91],[150,0.94],[156,0.98],[163,0.99],[169,1.01],[176,0.98],[182,0.99],[188.5,0.97],[195,1.01],[200,0.98]];
const zRDown = [[200,1.0],[194,1.03],[188,0.99],[182,1.02],[176,1.0],[170,1.03],[164,0.98],[158,1.01],[152,1.03],[146,1.0],[140,1.02],[134,0.99],[128,1.01],[122,0.98],[116,1.0],[110,0.97],[104,0.99],[98,0.96],[92,0.98],[85,1.03],[78,0.96],[72,0.95],[66,0.93],[60,0.95],[54,0.94],[48,0.96],[44,0.98],[40,0.93],[35,0.91],[30,0.86],[25,0.85],[18.6,0.86],[12,0.87],[5.8,0.86],[-0.6,0.87],[-7,0.84],[-13.5,0.81],[-20,0.81],[-25,0.8],[-29.5,0.75],[-36,0.78],[-44,0.78],[-50,0.71],[-55,0.7],[-60,0.68],[-66,0.67],[-74,0.64],[-82,0.6],[-90,0.57],[-99,0.47],[-106,0.38],[-114,0.36],[-119,0.23],[-126,0.1],[-129.5,-0.04],[-134,-0.23],[-141,-0.28],[-145,-0.49],[-150,-0.63],[-154,-0.82],[-161,-0.89],[-169,-0.89],[-178.5,-0.89],[-188,-0.91],[-196,-0.95],[-200,-0.93]];
const zRUp = [[-200,-0.96],[-193,-0.93],[-186,-0.95],[-179,-0.92],[-172,-0.94],[-165,-0.91],[-158,-0.93],[-150,-0.92],[-143,-0.9],[-135,-0.92],[-124,-0.94],[-114,-0.89],[-105,-0.91],[-94,-0.89],[-84,-0.88],[-74,-0.84],[-65,-0.84],[-57,-0.82],[-49,-0.81],[-42,-0.77],[-37.5,-0.75],[-33,-0.7],[-28,-0.67],[-23,-0.61],[-18,-0.55],[-13.5,-0.44],[-8.7,-0.33],[-3.8,-0.26],[0,-0.1],[3.2,0.09],[7.4,0.28],[11.5,0.36],[17,0.5],[21.8,0.59],[25.6,0.67],[31.4,0.72],[38.5,0.77],[44,0.82],[49,0.87],[53.8,0.91],[60,0.92],[66,0.9],[73,0.95],[79.5,0.97],[86,0.96],[92,0.98],[98.7,0.99],[105,0.97],[111,1.0],[118,0.98],[124,1.01],[130,0.99],[137,1.02],[143,1.0],[150,1.03],[156,1.01],[163,1.04],[169,1.02],[176,1.04],[182,1.02],[188,1.05],[194,1.02],[200,1.04]];

// и) HNiPy/IrMn(15нм)
const iKDown = [[300,1.01],[293,0.98],[286,1.02],[279,0.96],[272,1.0],[265,0.94],[258,0.99],[251,0.97],[244,1.01],[237,0.95],[230,0.98],[223,0.93],[216,0.97],[209,0.95],[202,0.99],[195,0.93],[188,0.96],[181,0.94],[174,0.97],[167,0.92],[160,0.95],[153,0.91],[146,0.94],[139,0.9],[132,0.93],[125,0.89],[115,0.9],[106,0.9],[96,0.84],[86.5,0.81],[77,0.75],[67,0.73],[57.7,0.7],[48,0.64],[38.5,0.58],[29,0.5],[19,0.44],[9.6,0.39],[2.4,0.33],[-4.8,0.27],[-12,0.22],[-19,0.16],[-26,0.09],[-31,0.03],[-33.6,-0.04],[-38.5,-0.12],[-43,-0.18],[-48,-0.22],[-53,-0.29],[-57.7,-0.36],[-62.5,-0.4],[-70,-0.43],[-77,-0.49],[-84,-0.53],[-91,-0.57],[-98.6,-0.6],[-106,-0.64],[-113,-0.63],[-120,-0.66],[-127,-0.69],[-134.6,-0.69],[-142,-0.71],[-149,-0.73],[-158.6,-0.77],[-168,-0.8],[-178,-0.81],[-188,-0.83],[-197,-0.84],[-207,-0.87],[-216,-0.88],[-226,-0.9],[-235.6,-0.88],[-243,-0.74],[-250,-0.9],[-260,-0.88],[-269,-0.93],[-279,-0.9],[-288,-0.94],[-298,-0.91]];
const iKUp = [[-298,-0.9],[-288,-0.92],[-276,-0.91],[-264,-0.89],[-250,-0.88],[-236,-0.91],[-221,-0.91],[-207,-0.88],[-192,-0.87],[-178,-0.83],[-166,-0.77],[-154,-0.71],[-142,-0.69],[-130,-0.66],[-118,-0.62],[-106,-0.57],[-96,-0.55],[-86.5,-0.52],[-77,-0.46],[-70,-0.38],[-65,-0.32],[-60,-0.26],[-55,-0.21],[-50.5,-0.15],[-45,-0.11],[-41,-0.08],[-36,-0.04],[-31,0.02],[-26,0.08],[-21.6,0.12],[-17,0.16],[-12,0.2],[-7,0.26],[-2.4,0.33],[2.4,0.39],[9.6,0.44],[17,0.5],[24,0.56],[31,0.61],[38.5,0.66],[45.7,0.7],[53,0.74],[62.5,0.78],[70,0.81],[78,0.84],[86.5,0.87],[96,0.9],[106,0.91],[115,0.92],[127,0.94],[139,0.95],[154,0.98],[166,1.09],[178,0.94],[192,0.98],[207,1.01],[221,0.98],[235.6,1.01],[250,0.99],[264,0.98],[279,1.02],[293,0.99],[300,1.0]];
const iRDown = [[300,1.0],[292,0.96],[284,1.05],[276,0.98],[268,1.03],[260,0.97],[252,1.06],[244,1.0],[236,0.95],[228,1.03],[220,0.98],[212,1.02],[204,0.96],[196,1.04],[188,1.0],[180,0.97],[172,1.03],[164,0.99],[156,1.05],[148,0.98],[140,1.02],[132,0.96],[124,1.01],[116,0.99],[108,1.04],[100,0.97],[92,1.02],[84,0.99],[76,1.03],[68,0.96],[60,1.0],[52,0.98],[44,1.02],[36,0.97],[28,1.0],[20,0.95],[12,0.98],[4,0.93],[0,1.09],[-6,0.92],[-12,0.96],[-18,0.9],[-24,0.95],[-29,0.97],[-33.6,0.9],[-41,0.85],[-46,0.82],[-50.5,0.82],[-56,0.8],[-62.5,0.67],[-67,0.57],[-72,0.46],[-77,0.33],[-84,0.23],[-89,0.13],[-93.8,-0.01],[-98.6,-0.15],[-102,-0.33],[-108,-0.45],[-115,-0.46],[-122.6,-0.55],[-130,-0.56],[-137,-0.62],[-144,-0.66],[-154,-0.69],[-163,-0.71],[-173,-0.74],[-183,-0.8],[-192,-0.82],[-202,-0.84],[-211,-0.88],[-221,-0.94],[-230.8,-0.91],[-240,-0.86],[-250,-0.87],[-260,-0.93],[-269,-0.91],[-279,-0.87],[-288,-0.86],[-298,-0.88]];
const iRUp = [[-298,-0.93],[-286,-0.83],[-274,-0.88],[-262,-0.83],[-250,-0.88],[-238,-0.85],[-226,-0.86],[-214,-0.94],[-202,-0.88],[-190,-0.83],[-178,-0.77],[-166,-0.86],[-154,-0.8],[-142,-0.74],[-130,-0.79],[-118,-0.71],[-106,-0.66],[-96,-0.7],[-89,-0.66],[-82,-0.57],[-79,-0.53],[-73,-0.36],[-67,-0.15],[-61,0.02],[-57.7,0.21],[-53,0.38],[-48,0.57],[-42,0.7],[-38.5,0.81],[-31,0.85],[-24,0.9],[-14.4,0.92],[-6,0.88],[2.4,0.95],[12,0.98],[24,1.01],[34,0.96],[44,1.03],[54,0.99],[64,1.05],[74,0.97],[84,1.02],[94,0.99],[104,1.04],[114,0.98],[124,1.02],[134,0.97],[144,1.01],[154,0.99],[164,1.03],[174,0.98],[187.5,1.14],[196,1.0],[206,0.96],[216,1.02],[226,0.98],[236,1.03],[246,0.97],[256,1.01],[266,0.96],[276,1.04],[286,0.99],[294,1.06],[300,0.97]];

// к) IrMn(15нм)/HNiPy
const kKDown = [[300,0.95],[292,0.99],[284,0.92],[276,0.97],[268,0.93],[260,0.98],[252,0.91],[244,0.96],[236,0.93],[228,0.97],[220,0.92],[212,0.95],[204,0.9],[196,0.94],[188,0.91],[180,0.95],[172,0.92],[164,0.88],[156,0.93],[148,0.9],[140,0.93],[132,0.89],[124,0.92],[116,0.88],[108,0.91],[100,0.89],[90,0.92],[80,0.9],[70.7,0.85],[61,0.82],[51.4,0.84],[41.8,0.82],[37,0.75],[29.8,0.71],[22.6,0.73],[17.8,0.67],[10.6,0.61],[3.4,0.54],[-3.8,0.5],[-11,0.47],[-16,0.42],[-20,0.34],[-24.5,0.27],[-29,0.22],[-35,0.19],[-40,0.15],[-44.7,0.05],[-49.5,0.01],[-54,-0.02],[-61.5,-0.08],[-66,-0.11],[-73.6,-0.18],[-80.8,-0.25],[-89,-0.28],[-98,-0.3],[-107,-0.31],[-114,-0.33],[-121.6,-0.35],[-130,-0.33],[-133.6,-0.4],[-138.5,-0.49],[-145.7,-0.47],[-153,-0.55],[-160,-0.59],[-165,-0.62],[-170,-0.64],[-174.5,-0.69],[-182,-0.71],[-189,-0.69],[-196,-0.71],[-203,-0.7],[-210.6,-0.74],[-218,-0.7],[-225,-0.71],[-232,-0.69],[-242,-0.73],[-251.4,-0.7],[-261,-0.74],[-270.7,-0.7],[-280,-0.73],[-290,-0.7],[-299.5,-0.77]];
const kKUp = [[-297,-0.83],[-285,-0.8],[-273,-0.79],[-261,-0.84],[-249,-0.81],[-237,-0.8],[-225,-0.83],[-213,-0.84],[-198.5,-0.8],[-184,-0.93],[-172,-0.83],[-160,-0.8],[-153,-0.9],[-143,-0.71],[-133,-0.76],[-124,-0.71],[-117,-0.69],[-107,-0.69],[-97.6,-0.66],[-85.6,-0.64],[-76,-0.63],[-66,-0.63],[-56.7,-0.6],[-47,-0.57],[-37.5,-0.56],[-28,-0.53],[-20.7,-0.52],[-13.5,-0.46],[-8.7,-0.42],[-6.3,-0.32],[-1.4,-0.28],[3.4,-0.23],[8,-0.19],[13,-0.15],[17.8,-0.08],[25,-0.04],[32,-0.01],[39.4,0.01],[46.6,0.03],[53.8,0.05],[62,-0.01],[68,0.08],[75.5,0.09],[82.7,0.12],[90,0.2],[97,0.2],[104,0.22],[106.7,0.37],[111.5,0.43],[118,0.47],[123.6,0.51],[130.8,0.53],[135.6,0.58],[140.4,0.73],[145,0.75],[152,0.74],[159.6,0.82],[166.8,0.84],[176.4,0.9],[186,0.95],[195.7,0.98],[205,1.01],[217,0.95],[230,0.97],[243.8,0.98],[255.8,1.04],[268,1.01],[280,0.87],[292,1.01],[299,0.95]];
const kRDown = [[300,1.05],[292,1.1],[284,1.02],[276,1.08],[268,1.12],[260,1.04],[252,1.09],[244,1.01],[236,1.07],[228,1.11],[220,1.03],[212,1.08],[204,1.05],[196,1.1],[188,1.02],[180,1.07],[172,1.04],[164,1.09],[156,1.01],[148,1.06],[140,1.1],[132,1.03],[124,1.07],[116,1.0],[108,1.05],[100,1.08],[92,1.02],[84,1.06],[76,1.0],[70,1.04],[63.5,1.22],[56,1.06],[48,1.02],[40,1.07],[32,1.04],[22.6,1.05],[12,1.03],[3.4,0.98],[-6,1.02],[-16,1.01],[-25,0.96],[-32,0.98],[-40,0.92],[-47,0.97],[-54,0.92],[-62,0.96],[-68,0.93],[-73.6,0.92],[-83,0.95],[-90,0.9],[-97,0.93],[-104,0.88],[-112,0.8],[-118,0.89],[-124,0.88],[-133.6,0.87],[-143,0.88],[-150.5,0.8],[-156,0.77],[-161,0.7],[-165,0.63],[-170,0.56],[-174.5,0.42],[-178,0.26],[-184,0.13],[-189,-0.04],[-194,-0.18],[-199.5,-0.32],[-206,-0.45],[-210.6,-0.56],[-215,-0.7],[-220,-0.83],[-227,-0.86],[-237,-0.9],[-246.6,-0.88],[-256,-0.91],[-266,-0.9],[-275.5,-0.87],[-285,-0.91],[-294.7,-0.93],[-300,-0.9]];
const kRUp = [[-300,-0.92],[-290,-0.89],[-280,-0.92],[-270,-0.88],[-258.6,-0.94],[-246,-0.9],[-234,-0.88],[-222.6,-0.87],[-208,-0.97],[-194,-0.91],[-179,-0.9],[-165,-0.88],[-150.5,-0.86],[-136,-0.84],[-129,-0.95],[-117,-0.83],[-107,-0.8],[-93,-0.81],[-78,-0.95],[-73.6,-0.8],[-61.5,-0.79],[-49.5,-0.84],[-42,-0.77],[-35,-0.69],[-28,-0.66],[-22,-0.68],[-16,-0.63],[-10,-0.57],[-3.8,-0.52],[1,-0.43],[5.8,-0.29],[12,-0.12],[15.4,0.08],[19,0.28],[22.6,0.46],[26,0.53],[29.8,0.73],[33,0.86],[37,0.94],[46.6,0.98],[56,1.01],[70.7,1.04],[80,1.07],[90,1.02],[100,1.06],[110,1.1],[120,1.03],[130,1.08],[140,1.04],[150,1.1],[160,1.05],[170,1.09],[180,1.03],[190,1.07],[200,1.11],[210,1.04],[220,1.08],[230,1.03],[240,1.09],[250,1.05],[260,1.1],[270,1.04],[280,1.08],[290,1.12],[300,1.06]];

// ---- panel layout ----
const rowTops = [13, 306, 599, 935, 1269];
const colLefts = [98, 516];
const plotW = 418, plotH = 293;
const labelBase = [22, 26, 26, 27, 21];

const panels = [
  { lab: 'а) ', txt: 'HNiPy/IrMn(2нм)',  row: 0, col: 0, range: 100, step: 25, k: [aKDown, aKUp], r: [aRDown, aRUp] },
  { lab: 'б) ', txt: 'IrMn(2нм)/HNiPy',  row: 0, col: 1, range: 100, step: 25, k: [bKDown, bKUp], r: [bRDown, bRUp], swap: true },
  { lab: 'в) ', txt: 'HNiPy/IrMn(5нм)',  row: 1, col: 0, range: 100, step: 25, k: [vKDown, vKUp], r: [vRDown, vRUp] },
  { lab: 'г) ', txt: 'IrMn(5нм)/HNiPy',  row: 1, col: 1, range: 100, step: 25, k: [gKDown, gKUp], r: [gRDown, gRUp] },
  { lab: 'д) ', txt: 'HNiPy/IrMn(6нм)',  row: 2, col: 0, range: 100, step: 25, k: [dKDown, dKUp], r: [dRDown, dRUp] },
  { lab: 'е)', txt: 'IrMn(6нм)/HNiPy',   row: 2, col: 1, range: 100, step: 25, k: [eKDown, eKUp], r: [eRDown, eRUp], big: true },
  { lab: 'ж) ', txt: 'HNiPy/IrMn(10нм)', row: 3, col: 0, range: 200, step: 50, k: [zhKDown, zhKUp], r: [zhRDown, zhRUp] },
  { lab: 'з) ', txt: 'IrMn(10нм)/HNiPy', row: 3, col: 1, range: 200, step: 50, k: [zKDown, zKUp], r: [zRDown, zRUp] },
  { lab: 'и)', txt: 'HNiPy/IrMn(15нм)',  row: 4, col: 0, range: 300, step: 75, k: [iKDown, iKUp], r: [iRDown, iRUp] },
  { lab: 'к)', txt: 'IrMn(15нм)/HNiPy',  row: 4, col: 1, range: 300, step: 75, k: [kKDown, kKUp], r: [kRDown, kRUp] }
];

const xy = pts => pts.map(p => ({ x: p[0], y: p[1] }));
const FONT = '"Liberation Sans", Arial, sans-serif';

// zero lines and full frame, drawn under the points
const framePlugin = {
  id: 'frame',
  beforeDatasetsDraw(chart) {
    const { ctx, chartArea: a, scales: { x, y } } = chart;
    const x0 = x.getPixelForValue(0), y0 = y.getPixelForValue(0);
    ctx.save();
    ctx.strokeStyle = '#222';
    ctx.lineWidth = 1.3;
    ctx.beginPath();
    ctx.moveTo(x0, a.top); ctx.lineTo(x0, a.bottom);
    ctx.moveTo(a.left, y0); ctx.lineTo(a.right, y0);
    ctx.stroke();
    ctx.strokeStyle = '#000';
    ctx.lineWidth = 1.6;
    ctx.strokeRect(a.left, a.top, a.right - a.left, a.bottom - a.top);
    ctx.restore();
  }
};

function loopSet(branches, color, line, style) {
  const rect = style === 'rect';
  return {
    data: xy(branches[0].concat(branches[1])),
    showLine: true,
    borderColor: line,
    borderWidth: 0.8,
    tension: 0,
    pointStyle: style,
    pointRadius: rect ? 4.4 : 3.4,
    pointBackgroundColor: color,
    pointBorderColor: color,
    pointBorderWidth: 0,
    clip: false
  };
}

panels.forEach(p => {
  const top = rowTops[p.row], left = colLefts[p.col];
  const xLabels = p.row >= 2;
  const xh = xLabels ? 50 : 12;
  const cv = document.createElement('canvas');
  cv.width = 98 + plotW + 24;
  cv.height = 20 + plotH + xh;
  cv.style.left = (left - 98) + 'px';
  cv.style.top = (top - 20) + 'px';
  document.body.appendChild(cv);

  const kStyle = p.swap ? 'rect' : 'circle';
  const rStyle = p.swap ? 'circle' : 'rect';
  const major = p.step * 2;

  new Chart(cv, {
    type: 'scatter',
    data: {
      datasets: [
        loopSet(p.r, '#ff0000', '#ff2a2a', rStyle),
        loopSet(p.k, '#000000', '#333333', kStyle)
      ]
    },
    options: {
      responsive: false,
      animation: false,
      devicePixelRatio: 1,
      layout: { padding: { top: 20, right: 24, left: 0, bottom: 0 } },
      plugins: { legend: { display: false }, tooltip: { enabled: false } },
      scales: {
        x: {
          type: 'linear',
          min: -p.range, max: p.range,
          afterFit: s => { s.height = xh; },
          ticks: {
            stepSize: p.step, display: xLabels, autoSkip: false, maxRotation: 0, minRotation: 0,
            padding: 3, color: '#111', font: { family: FONT, size: 26, weight: 'bold' },
            callback: v => {
              if (v % major !== 0) return '';
              if (p.col === 0 && v === p.range) return '';
              if (p.col === 1 && v === -p.range) return String(p.range);
              return String(v);
            }
          },
          grid: { color: '#c4c4c4', lineWidth: 1, drawTicks: true, tickLength: 5, tickColor: '#000', tickWidth: 1.5 },
          border: { color: '#000', width: 1.6, dash: [2, 2] }
        },
        y: {
          type: 'linear',
          min: -1.25, max: 1.25,
          afterFit: s => { s.width = 98; },
          ticks: {
            stepSize: 0.25, display: p.col === 0, autoSkip: false,
            padding: 6, color: '#111', font: { family: FONT, size: 26, weight: 'bold' },
            callback: v => {
              if (Math.abs(v) > 1.2) return null;
              return Math.abs(v * 2 - Math.round(v * 2)) < 1e-9 ? v.toFixed(1).replace('.', ',') : '';
            }
          },
          grid: { color: '#c4c4c4', lineWidth: 1, drawTicks: true, tickLength: 5, tickColor: '#000', tickWidth: 1.5 },
          border: { color: '#000', width: 1.6, dash: [2, 2] }
        }
      }
    },
    plugins: [framePlugin]
  });

  // panel caption
  const d = document.createElement('div');
  d.className = 'lbl';
  d.style.left = (left + (p.col === 0 ? 4 : 2)) + 'px';
  d.style.top = (top + labelBase[p.row] - 17) + 'px';
  d.innerHTML = (p.big ? '<span class="big">' + p.lab + '</span>' : p.lab) + '<i>' + p.txt + '</i>';
  document.body.appendChild(d);
});

// axis titles
rowTops.forEach(t => {
  const d = document.createElement('div');
  d.className = 'ytitle';
  d.style.left = '25px';
  d.style.top = (t + plotH / 2 - 8) + 'px';
  d.innerHTML = 'M/M<span>S</span>';
  document.body.appendChild(d);
});
[306, 724].forEach(cx => {
  const d = document.createElement('div');
  d.className = 'xtitle';
  d.style.left = cx + 'px';
  d.style.top = '1608px';
  d.textContent = 'H(Э)';
  document.body.appendChild(d);
});
</script>
</body>
</html>
